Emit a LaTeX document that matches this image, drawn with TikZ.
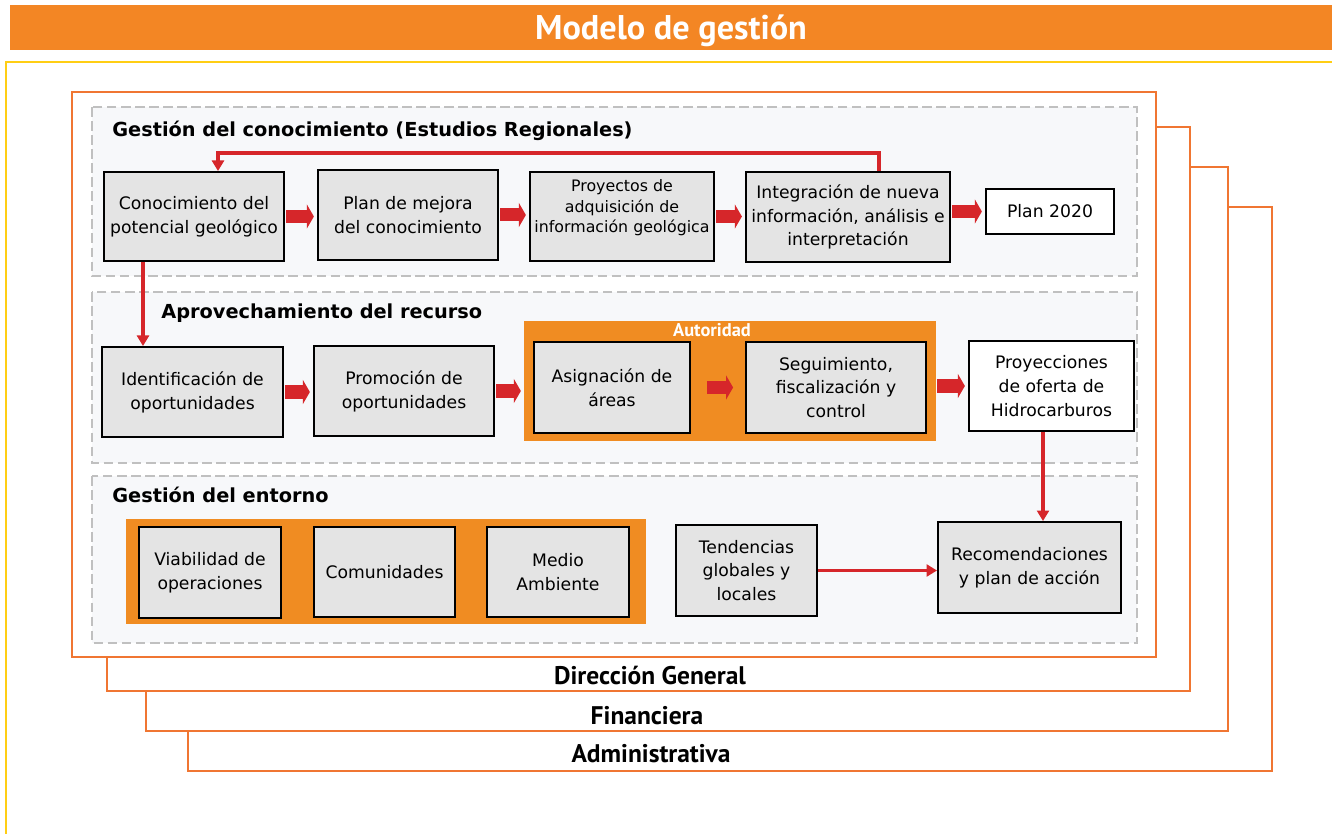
\documentclass[tikz,border=0pt]{standalone}
\usepackage{fontspec}
\setmainfont{DejaVu Sans}
\newfontfamily\titlefont{PT Sans}
\usetikzlibrary{arrows.meta}

\definecolor{barorange}{RGB}{243,134,36}
\definecolor{frameorange}{RGB}{240,118,50}
\definecolor{boxorange}{RGB}{240,140,34}
\definecolor{frameyellow}{RGB}{255,206,20}
\definecolor{panelgray}{RGB}{247,248,250}
\definecolor{dashgray}{RGB}{192,192,192}
\definecolor{boxgray}{RGB}{228,228,228}
\definecolor{arrowred}{RGB}{214,38,42}

\tikzset{
  orgframe/.style={draw=frameorange, line width=0.9pt, fill=white},
  panel/.style={draw=dashgray, line width=1.1pt, dash pattern=on 5.5pt off 2.5pt, fill=panelgray},
  box/.style={draw=black, line width=1.1pt, fill=boxgray, align=center, inner sep=2pt,
    font=\fontsize{9.8}{13.6}\selectfont},
  whitebox/.style={box, fill=white},
  orangegroup/.style={fill=boxorange, inner sep=0pt, outer sep=0pt},
  heading/.style={anchor=base west, inner sep=0pt, font=\bfseries\fontsize{11}{13}\selectfont},
  dept/.style={anchor=base, inner sep=0pt, font=\titlefont\bfseries\fontsize{14.5}{16}\selectfont},
  redline/.style={draw=arrowred, line width=2.2pt, -{Triangle[length=6pt,width=6.8pt]}},
  blockarrow/.style={draw=arrowred, line width=7.4pt, -{Triangle[length=4pt,width=13.6pt]},
    shorten <=0.8pt, shorten >=1.8pt}
}

\begin{document}
\begin{tikzpicture}[x=0.02cm, y=-0.02cm]
  \useasboundingbox (0,0) rectangle (1332,834);

  \fill[barorange] (10,5) rectangle (1332,50);
  \node[anchor=base, text=white, inner sep=0pt, font=\titlefont\bfseries\fontsize{19.5}{21}\selectfont]
    (title) at (671,39.5) {Modelo de gestión};
  \draw[frameyellow, line width=1.6pt] (6,834) -- (6,62) -- (1332,62);

  \draw[orgframe] (188,207) rectangle (1272,771);
  \draw[orgframe] (146,167) rectangle (1228,731);
  \draw[orgframe] (107,127) rectangle (1190,691);
  \draw[orgframe] (72,92) rectangle (1156,657);
  \node[dept] (lblDG) at (650,684) {Dirección General};
  \node[dept] (lblFin) at (647,724) {Financiera};
  \node[dept] (lblAdm) at (651,762) {Administrativa};

  \draw[panel] (92,107) rectangle (1137,276);
  \draw[panel] (92,292) rectangle (1137,463);
  \draw[panel] (92,476) rectangle (1137,643);
  \node[heading] (hConoc) at (112,137) {Gestión del conocimiento (Estudios Regionales)};
  \node[heading] (hAprov) at (161,319) {Aprovechamiento del recurso};
  \node[heading] (hEnt) at (112,502) {Gestión del entorno};

  \node[box, minimum width=3.6cm, minimum height=1.78cm] (conoc) at (194,216.5) {Conocimiento del\\potencial geológico};
  \node[box, minimum width=3.6cm, minimum height=1.8cm] (plan) at (408,215) {Plan de mejora\\del conocimiento};
  \node[box, minimum width=3.68cm, minimum height=1.78cm, font=\fontsize{9}{11.9}\selectfont] (proy) at (622,216.5)
    {Proyectos de\\adquisición de\\información geológica\\\mbox{}};
  \node[box, minimum width=4.08cm, minimum height=1.8cm] (integ) at (848,217) {Integración de nueva\\información, análisis e\\interpretación};
  \node[whitebox, minimum width=2.56cm, minimum height=0.9cm] (plan20) at (1050,211.5) {Plan 2020};

  \node[orangegroup, minimum width=8.24cm, minimum height=2.4cm] (aut) at (730,381) {};
  \node[anchor=base, text=white, inner sep=0pt, font=\titlefont\bfseries\fontsize{10.5}{12}\selectfont] (autlbl) at (712,337) {Autoridad};
  \node[box, minimum width=3.62cm, minimum height=1.8cm] (ident) at (192.5,392) {Identificación de\\oportunidades};
  \node[box, minimum width=3.6cm, minimum height=1.8cm] (promo) at (404,391) {Promoción de\\oportunidades};
  \node[box, minimum width=3.12cm, minimum height=1.82cm] (asig) at (612,387.5) {Asignación de\\áreas};
  \node[box, minimum width=3.6cm, minimum height=1.82cm] (segu) at (836,387.5) {Seguimiento,\\fiscalización y\\control};
  \node[whitebox, minimum width=3.3cm, minimum height=1.8cm] (proyec) at (1051.5,386) {Proyecciones\\de oferta de\\Hidrocarburos};

  \node[orangegroup, minimum width=10.4cm, minimum height=2.1cm] (ent) at (386,571.5) {};
  \node[box, minimum width=2.84cm, minimum height=1.82cm] (viab) at (210,572.5) {Viabilidad de\\operaciones};
  \node[box, minimum width=2.82cm, minimum height=1.8cm] (comun) at (384.5,572) {Comunidades};
  \node[box, minimum width=2.84cm, minimum height=1.8cm] (medio) at (558,572) {Medio\\Ambiente};
  \node[box, minimum width=2.82cm, minimum height=1.82cm] (tend) at (746.5,570.5) {Tendencias\\globales y\\locales};
  \node[box, minimum width=3.66cm, minimum height=1.82cm] (recom) at (1029.5,567.5) {Recomendaciones\\y plan de acción};

  \draw[blockarrow] (conoc.east) -- (conoc.east -| plan.west);
  \draw[blockarrow] (plan.east) -- (plan.east -| proy.west);
  \draw[blockarrow] (proy.east) -- (proy.east -| integ.west);
  \draw[blockarrow] (integ.east |- plan20.west) -- (plan20.west);

  \coordinate (fbR) at (879,153);
  \coordinate (fbL) at (218,153);
  \draw[redline] (fbR |- integ.north) -- (fbR) -- (fbL) -- (fbL |- conoc.north);
  \coordinate (dnL) at (143,0);
  \draw[redline] (conoc.south -| dnL) -- (ident.north -| dnL);

  \draw[blockarrow] (ident.east) -- (ident.east -| promo.west);
  \draw[blockarrow] (promo.east) -- (promo.east -| aut.west);
  \draw[blockarrow, shorten <=9pt, shorten >=6.8pt] (asig.east) -- (asig.east -| segu.west);
  \draw[blockarrow] (aut.east |- proyec.west) -- (proyec.west);

  \coordinate (dnR) at (1043,0);
  \draw[redline] (proyec.south -| dnR) -- (recom.north -| dnR);
  \draw[redline] (tend.east) -- (tend.east -| recom.west);

\end{tikzpicture}
\end{document}
